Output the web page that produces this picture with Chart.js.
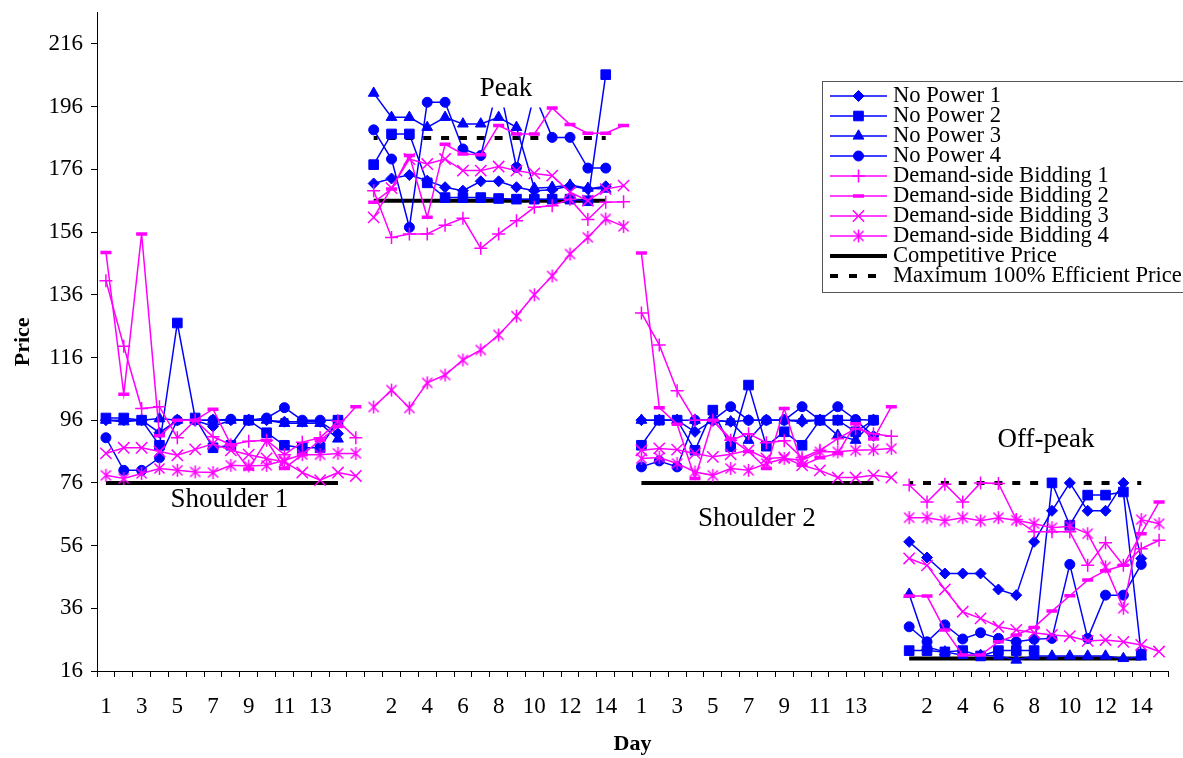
<!DOCTYPE html>
<html>
<head>
<meta charset="utf-8">
<script src="https://cdn.jsdelivr.net/npm/chart.js@4/dist/chart.umd.min.js"></script>
<style>
  html, body { margin: 0; padding: 0; background: #ffffff; }
  #wrap { width: 1183px; height: 758px; position: relative; }
</style>
</head>
<body>
<div id="wrap"><canvas id="c"></canvas></div>
<script>
// ---------------- DATA ----------------
const _ = null;
const dayLabels = ['1','2','3','4','5','6','7','8','9','10','11','12','13','14',''];
const sessionNames = ['Shoulder 1', 'Peak', 'Shoulder 2', 'Off-peak'];
const categories = sessionNames.flatMap(() => dayLabels);
const yTicks = [16, 36, 56, 76, 96, 116, 136, 156, 176, 196, 216];
const yMin = 16;
const yMax = 226;

const noPower1 = [
  96, 96, 96, 92, 96, 96, 94, 96, 96, 96, 95.5, 95.5, 95.5, 91.7, _,
  171.5, 173.1, 174.2, 172.4, 170.3, 169.2, 172.2, 172.2, 170.3, 169.2, 169.5, 170.8, 169.7, 170.6, _,
  96, 96, 96, 92.3, 96, 95.5, 96, 96, 96, 95.5, 96, 96, 96, 91, _,
  57.2, 52.2, 47.1, 47.1, 47.1, 42, 40.2, 57.2, 67.1, 76, 67.1, 67.1, 76, 51.9, _
];
const noPower2 = [
  96.7, 96.7, 96, 88, 127, 96.7, 87.2, 88, 96, 92, 88, 87.2, 87.2, 96, _,
  177.5, 187.3, 187.3, 171.7, 167, 167, 167, 166.7, 166.5, 166.5, 166.5, 166.5, 166, 206.2, _,
  88, 96, 96, 86.4, 99.2, 87.5, 107.2, 87.7, 92.3, 88, 96, 96, 92.3, 96, _,
  22.5, 22.5, 22.1, 22.5, 20.8, 22.5, 22.5, 22.5, 76, 62.5, 72.1, 72.1, 73.1, 21.4, _
];
const noPower3 = [
  96, 95.5, 96, 96.5, 96, 96, 96, 96, 96, 96, 95, 95, 95, 90, _,
  200.3, 192.6, 192.6, 189.4, 192.6, 190.5, 190.5, 192.6, 189.4, 170, 170.3, 171, 170, 169.7, _,
  96, 96, 96, 96, 96, 95.5, 89.6, 96, 96, 96, 96, 91.2, 89.6, 96, _,
  40.5, 23.7, 22.1, 21, 21, 20.8, 19.5, 20.8, 20.8, 20.8, 20.8, 20.8, 20, 20.5, _
];
const noPower4 = [
  90.4, 80, 80, 84, 96, 96, 96, 96.3, 96, 96.7, 100, 96, 96, 96, _,
  188.6, 179.3, 157.5, 197.4, 197.4, 182.5, 180.4, 204, 176.6, 200, 186.2, 186.2, 176.4, 176.4, _,
  81.1, 83, 81.1, 96, 96, 100.3, 96, 96, 96, 100.3, 96, 100.3, 96.2, 96, _,
  30.1, 25.3, 30.7, 26.2, 28.2, 26.4, 25.3, 26.1, 26.4, 50, 26.4, 40.2, 40.2, 50, _
];
const demandBidding1 = [
  140.5, 119.6, 99.7, 100.3, 90.4, 96, 90.7, 88.2, 89.3, 89.6, 85, 89, 90.4, 95.7, 90.4,
  169.2, 154.3, 155.4, 155.4, 158.2, 160.4, 150.8, 155.4, 159.6, 163.9, 164.4, 166.5, 160, 165.5, 165.7,
  130.2, 120, 105.4, 96, 96, 89.6, 91.7, 88.8, 89.4, 84, 86.4, 90.1, 93.3, 91.7, 90.9,
  75.3, 69.9, 75.6, 69.9, 76, 75.8, 64.3, 60.4, 60.4, 60.4, 49.7, 56.9, 49.7, 55, 57.7
];
const demandBidding2 = [
  149.5, 104.3, 155.4, 91, 96, 96, 99.5, 88.2, 80.4, 89.6, 80.6, 85, 89.6, 94, 100.3,
  165.5, 169.7, 180.4, 160.7, 184, 180.9, 180.7, 190, 187.3, 187.3, 195.6, 190.3, 187.5, 187.5, 190,
  149.3, 100, 94.7, 77.4, 96, 90.1, 86, 80.6, 99.7, 81.6, 84, 85.4, 94.9, 90, 100.3,
  39.9, 39.9, 29.1, 21.1, 21.1, 25.3, 27.5, 29.9, 35.1, 40, 45, 48, 49.7, 59.8, 69.9
];
const demandBidding3 = [
  85.4, 87.2, 87.2, 86, 84.8, 86.7, 88.5, 86.4, 85, 83.8, 82.7, 79.3, 76.9, 79.3, 78.2,
  160.7, 170, 179.3, 177.7, 179.3, 175.6, 175.6, 176.9, 175.6, 174.7, 174, 168.7, 166, 169.7, 170.8,
  86.4, 87, 86.6, 85.4, 84.3, 85.1, 86.4, 83.8, 84.1, 81.6, 80, 77.7, 77.7, 78.4, 77.7,
  51.9, 49.7, 42, 34.9, 32.8, 30.1, 29.1, 28.2, 27.5, 27.1, 25.6, 25.9, 25.3, 24.3, 22.2
];
const demandBidding4 = [
  78.4, 77.4, 79, 80.6, 80, 79.5, 79.3, 81.6, 81.4, 81.6, 83.2, 85, 85, 85.4, 85.4,
  100.2, 105.6, 99.9, 107.9, 110.4, 115.2, 118.4, 123.2, 129.2, 136, 142, 149, 154.3, 160.2, 157.8,
  83.8, 84.1, 82.2, 79.5, 78.4, 80.6, 80, 82.2, 83.8, 83.2, 85.9, 85.9, 86.4, 86.6, 87,
  64.9, 64.9, 63.9, 64.9, 63.9, 64.9, 64.1, 63, 61.7, 62.2, 59.8, 49.2, 36, 64.3, 63
];
const competitivePrice = [
  76, 76, 76, 76, 76, 76, 76, 76, 76, 76, 76, 76, 76, 76, _,
  166, 166, 166, 166, 166, 166, 166, 166, 166, 166, 166, 166, 166, 166, _,
  76, 76, 76, 76, 76, 76, 76, 76, 76, 76, 76, 76, 76, 76, _,
  20, 20, 20, 20, 20, 20, 20, 20, 20, 20, 20, 20, 20, 20, _
];
const maxEfficientPrice = [
  96, 96, 96, 96, 96, 96, 96, 96, 96, 96, 96, 96, 96, 96, _,
  186, 186, 186, 186, 186, 186, 186, 186, 186, 186, 186, 186, 186, 186, _,
  96, 96, 96, 96, 96, 96, 96, 96, 96, 96, 96, 96, 96, 96, _,
  76, 76, 76, 76, 76, 76, 76, 76, 76, 76, 76, 76, 76, 76, _
];

// session label annotations (in data units: category index, price)
const sessionLabelTexts  = ['Shoulder 1', 'Peak', 'Shoulder 2', 'Off-peak'];
const sessionLabelDays   = [6.92, 22.41, 36.47, 52.67];
const sessionLabelPrices = [70.6, 201.8, 64.5, 89.6];

// ---------------- STYLE ----------------
const BLUE = '#0000FF', PINK = '#FF00FF', BLACK = '#000000';
const FONT = '"Liberation Serif", "Times New Roman", serif';
const GROUP = dayLabels.length;

Chart.defaults.font.family = FONT;
Chart.defaults.color = '#000';

function asteriskMarker(r, color, lw) {
  const s = Math.ceil(2 * r + lw + 2);
  const c = document.createElement('canvas');
  c.width = s; c.height = s;
  const g = c.getContext('2d');
  const m = s / 2, d = r * 0.78;
  g.strokeStyle = color; g.lineWidth = lw;
  g.beginPath();
  g.moveTo(m, m - r); g.lineTo(m, m + r);
  g.moveTo(m - d, m - d); g.lineTo(m + d, m + d);
  g.moveTo(m - d, m + d); g.lineTo(m + d, m - d);
  g.stroke();
  return c;
}
const asterisk = asteriskMarker(6.5, PINK, 1.5);

const gapBetweenSessions = {
  borderColor: ctx => (ctx.p1DataIndex % GROUP === 0 ? 'rgba(0,0,0,0)' : undefined)
};

function noPowerSet(label, data, style, radius) {
  return {
    label, data, order: 2,
    borderColor: BLUE, backgroundColor: BLUE, borderWidth: 1.5,
    pointStyle: style, pointRadius: radius, pointHoverRadius: radius,
    pointBackgroundColor: BLUE, pointBorderColor: BLUE, pointBorderWidth: 1,
    spanGaps: false
  };
}
function bidSet(label, data, style, radius, pbw) {
  return {
    label, data, order: 1,
    borderColor: PINK, backgroundColor: PINK, borderWidth: 1.5,
    pointStyle: style, pointRadius: radius, pointHoverRadius: radius,
    pointBackgroundColor: PINK, pointBorderColor: PINK, pointBorderWidth: pbw,
    segment: gapBetweenSessions
  };
}

const datasets = [
  noPowerSet('No Power 1', noPower1, 'rectRot', 5.5),
  noPowerSet('No Power 2', noPower2, 'rect', 6.8),
  noPowerSet('No Power 3', noPower3, 'triangle', 6.2),
  noPowerSet('No Power 4', noPower4, 'circle', 5),
  bidSet('Demand-side Bidding 1', demandBidding1, 'cross', 6.5, 1.5),
  bidSet('Demand-side Bidding 2', demandBidding2, 'line', 5.5, 3.5),
  bidSet('Demand-side Bidding 3', demandBidding3, 'crossRot', 8, 1.5),
  bidSet('Demand-side Bidding 4', demandBidding4, asterisk, 6, 1.5),
  {
    label: 'Competitive Price', data: competitivePrice, order: 3,
    borderColor: BLACK, backgroundColor: BLACK, borderWidth: 4,
    pointRadius: 0, pointHoverRadius: 0, spanGaps: false
  },
  {
    label: 'Maximum 100% Efficient Price', data: maxEfficientPrice, order: 3,
    borderColor: BLACK, backgroundColor: BLACK, borderWidth: 4,
    borderDash: [8, 9.85], borderDashOffset: 4, borderCapStyle: 'butt',
    pointRadius: 0, pointHoverRadius: 0, spanGaps: false
  }
];

// ---------------- PLUGINS ----------------
function drawMarker(ctx, style, r, x, y) {
  if (style instanceof HTMLCanvasElement) {
    ctx.drawImage(style, x - style.width / 2, y - style.height / 2);
    return;
  }
  ctx.beginPath();
  let fill = true;
  switch (style) {
    case 'circle': ctx.arc(x, y, r, 0, Math.PI * 2); break;
    case 'rect': { const s = Math.SQRT1_2 * r; ctx.rect(x - s, y - s, 2 * s, 2 * s); break; }
    case 'rectRot':
      ctx.moveTo(x - r, y); ctx.lineTo(x, y - r); ctx.lineTo(x + r, y); ctx.lineTo(x, y + r); ctx.closePath(); break;
    case 'triangle':
      ctx.moveTo(x, y - r);
      ctx.lineTo(x + r * Math.sin(2 * Math.PI / 3), y - r * Math.cos(2 * Math.PI / 3));
      ctx.lineTo(x + r * Math.sin(4 * Math.PI / 3), y - r * Math.cos(4 * Math.PI / 3));
      ctx.closePath(); break;
    case 'cross':
      fill = false; ctx.moveTo(x, y - r); ctx.lineTo(x, y + r); ctx.moveTo(x - r, y); ctx.lineTo(x + r, y); break;
    case 'crossRot': {
      fill = false; const d = r * Math.SQRT1_2;
      ctx.moveTo(x - d, y - d); ctx.lineTo(x + d, y + d); ctx.moveTo(x - d, y + d); ctx.lineTo(x + d, y - d); break;
    }
    case 'line':
      fill = false; ctx.moveTo(x - r, y); ctx.lineTo(x + r, y); break;
    default: return;
  }
  if (fill) ctx.fill();
  ctx.stroke();
}

const sessionLabelPlugin = {
  id: 'sessionLabels',
  afterDatasetsDraw(chart) {
    const { ctx, scales: { x, y } } = chart;
    ctx.save();
    ctx.font = '27px ' + FONT;
    ctx.textAlign = 'center';
    ctx.textBaseline = 'middle';
    sessionLabelTexts.forEach((t, i) => {
      const px = x.getPixelForValue(sessionLabelDays[i]);
      const py = y.getPixelForValue(sessionLabelPrices[i]);
      if (t === 'Peak') {
        const w = ctx.measureText(t).width;
        ctx.fillStyle = '#ffffff';
        ctx.fillRect(px - w / 2 - 14, py - 28, w + 28, 47);
      }
      ctx.fillStyle = '#000000';
      ctx.fillText(t, px, py);
    });
    ctx.restore();
  }
};

const boxLegendPlugin = {
  id: 'boxLegend',
  afterDraw(chart) {
    const ctx = chart.ctx;
    const left = 822.5, top = 81.5, width = 420, height = 211;
    const rowY0 = 96, rowStep = 20, lineX0 = 830, lineX1 = 887, textX = 893;
    ctx.save();
    ctx.fillStyle = '#ffffff';
    ctx.fillRect(left, top, width, height);
    ctx.strokeStyle = '#555555';
    ctx.lineWidth = 1;
    ctx.strokeRect(left, top, width, height);
    chart.data.datasets.forEach((ds, i) => {
      const yy = rowY0 + i * rowStep;
      ctx.save();
      ctx.strokeStyle = ds.borderColor;
      ctx.lineWidth = ds.borderWidth;
      ctx.setLineDash(ds.borderDash ? [8, 11] : []);
      ctx.beginPath();
      ctx.moveTo(lineX0, yy); ctx.lineTo(lineX1, yy);
      ctx.stroke();
      ctx.setLineDash([]);
      if (ds.pointRadius > 0) {
        ctx.fillStyle = ds.pointBackgroundColor;
        ctx.strokeStyle = ds.pointBorderColor;
        ctx.lineWidth = ds.pointBorderWidth;
        drawMarker(ctx, ds.pointStyle, ds.pointRadius, (lineX0 + lineX1) / 2, yy);
      }
      ctx.restore();
      ctx.fillStyle = '#000000';
      ctx.font = '22.6px ' + FONT;
      ctx.textAlign = 'left';
      ctx.textBaseline = 'middle';
      ctx.fillText(ds.label, textX, yy);
    });
    ctx.restore();
  }
};

// ---------------- CHART ----------------
new Chart(document.getElementById('c'), {
  type: 'line',
  data: { labels: categories, datasets },
  plugins: [sessionLabelPlugin, boxLegendPlugin],
  options: {
    responsive: true,
    maintainAspectRatio: false,
    animation: false,
    events: [],
    layout: { padding: { top: 12.6, right: 15, left: 0, bottom: 0 } },
    elements: { line: { tension: 0 } },
    plugins: { legend: { display: false }, tooltip: { enabled: false } },
    scales: {
      x: {
        type: 'category',
        offset: true,
        afterFit: axis => { axis.height = 87; axis.paddingLeft = 0; axis.paddingRight = 0; },
        border: { display: true, color: '#000', width: 1 },
        grid: { offset: true, drawOnChartArea: false, drawTicks: true, tickLength: 6, color: '#000', tickColor: '#000' },
        ticks: {
          autoSkip: false, maxRotation: 0, minRotation: 0, padding: 16,
          font: { size: 23 }, color: '#000',
          callback: function (value, index) { return index % 2 === 0 ? this.getLabelForValue(value) : ''; }
        },
        title: { display: true, text: 'Day', color: '#000', font: { size: 22, weight: 'bold' }, padding: { top: 0, bottom: 0 } }
      },
      y: {
        type: 'linear',
        min: yMin,
        max: yMax,
        afterBuildTicks: axis => { axis.ticks = yTicks.map(v => ({ value: v })); },
        afterFit: axis => { axis.width = 97; axis.paddingTop = 0; axis.paddingBottom = 0; },
        border: { display: true, color: '#000', width: 1 },
        grid: { drawOnChartArea: false, drawTicks: true, tickLength: 6, color: '#000', tickColor: '#000' },
        ticks: { padding: 8, font: { size: 23 }, color: '#000' },
        title: { display: true, text: 'Price', color: '#000', font: { size: 22, weight: 'bold' }, padding: { top: 10, bottom: 0 } }
      }
    }
  }
});
</script>
</body>
</html>
